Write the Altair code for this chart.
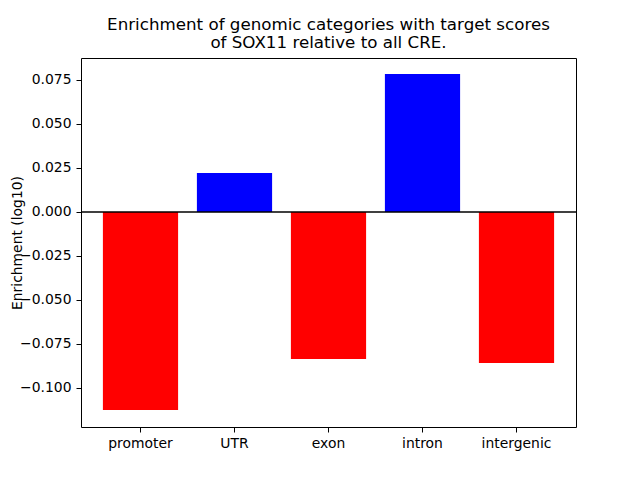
import altair as alt
import pandas as pd

categories = ["promoter", "UTR", "exon", "intron", "intergenic"]
values = [-0.1125, 0.0222, -0.0835, 0.0784, -0.0858]
colors = ["red" if v < 0 else "blue" for v in values]
y_ticks = [-0.1, -0.075, -0.05, -0.025, 0.0, 0.025, 0.05, 0.075]

df = pd.DataFrame({"category": categories, "value": values, "color": colors})

font = "DejaVu Sans"

bars = alt.Chart(df).mark_bar().encode(
    x=alt.X("category:N", sort=categories,
            scale=alt.Scale(paddingInner=0.2, paddingOuter=0.233),
            axis=alt.Axis(title=None, labelAngle=0, labelFontSize=13.9, labelFont=font,
                          labelColor="black", tickColor="black", tickSize=5,
                          domain=False, labelPadding=4)),
    y=alt.Y("value:Q", scale=alt.Scale(domain=[-0.1222, 0.0875], nice=False, zero=False),
            axis=alt.Axis(title="Enrichment (log10)", values=y_ticks, format=".3f",
                          labelFontSize=13.9, labelFont=font, labelColor="black",
                          tickColor="black", tickSize=5, domain=False, grid=False,
                          titleFont=font, titleFontSize=13.9, titleFontWeight="normal",
                          titleColor="black", titleX=-64, titleY=184.5, titleAngle=270,
                          titleAlign="center", titleBaseline="middle", labelPadding=5)),
    color=alt.Color("color:N", scale=None),
)

zero = alt.Chart(pd.DataFrame({"y": [0.0]})).mark_rule(color="black", strokeWidth=1.5).encode(
    y="y:Q"
)

chart = (bars + zero).properties(
    width=495,
    height=369,
    title=alt.TitleParams(
        ["Enrichment of genomic categories with target scores", "of SOX11 relative to all CRE."],
        font=font, fontSize=16.7, fontWeight="normal", color="black", anchor="middle",
        offset=6, lineHeight=18,
    ),
    autosize=alt.AutoSizeParams(type="none"),
    padding={"left": 73, "top": 50, "right": 56, "bottom": 45},
).configure_view(stroke="black", strokeWidth=1).configure_axis(grid=False)

chart.save("out.html", embed_options={"renderer": "svg", "actions": False})
